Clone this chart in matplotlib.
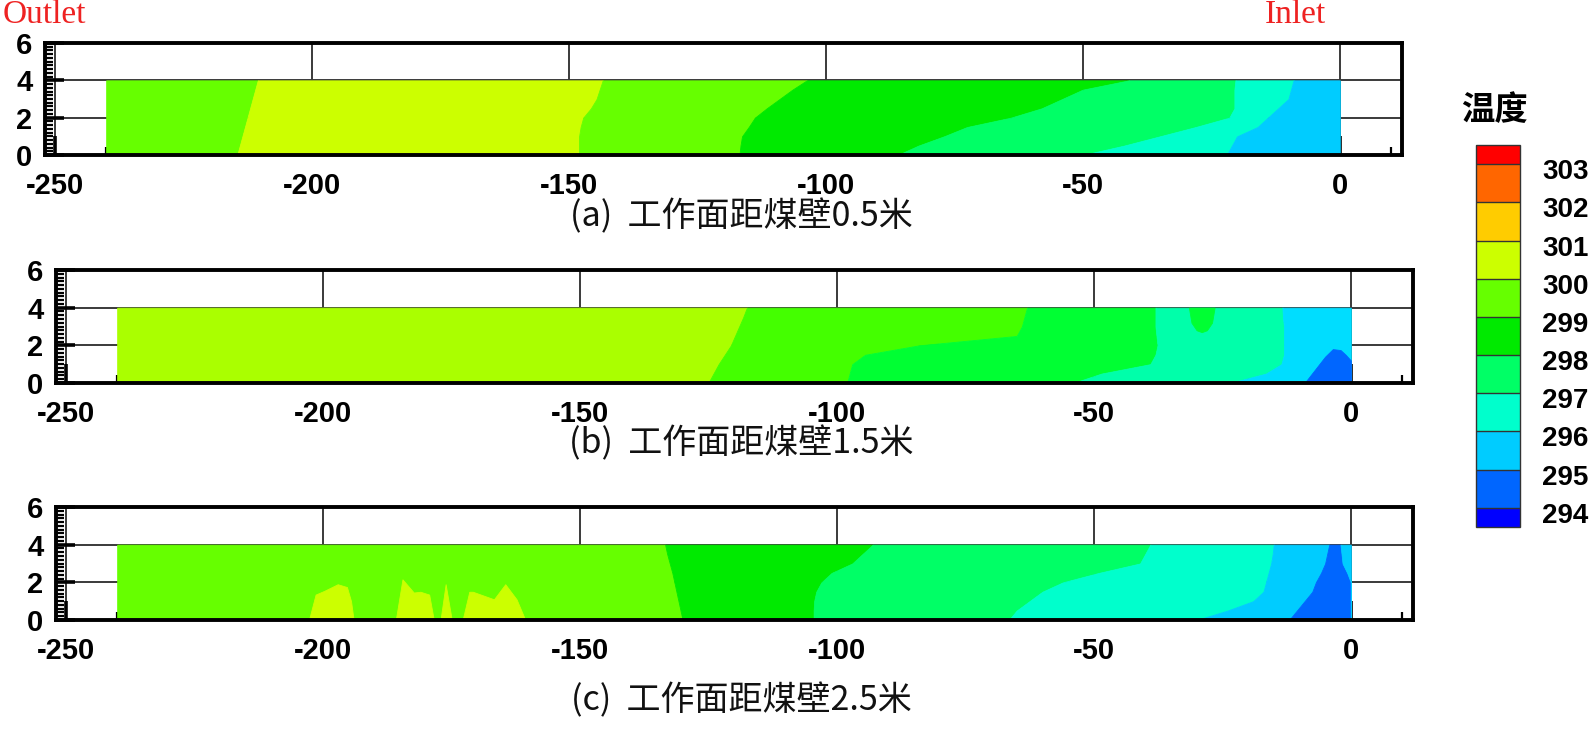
import numpy as np
import matplotlib
matplotlib.use("Agg")
import matplotlib.pyplot as plt
from matplotlib.colors import ListedColormap, BoundaryNorm
from matplotlib.cm import ScalarMappable
from matplotlib.ticker import MultipleLocator
from matplotlib.transforms import ScaledTranslation

plt.rcParams['axes.unicode_minus'] = False

# ---------------- data ----------------
levels = [294, 295, 296, 297, 298, 299, 300, 301, 302, 303]
x_ticks = [-250, -200, -150, -100, -50, 0]
y_ticks = [0, 2, 4, 6]
x_start, x_end = -240, 0          # extent of the computed zone
y_rows = [0, 0.5, 1, 1.5, 2, 2.5, 3, 3.5, 4]   # heights at which isotherm positions were read

# panel (a): isotherm positions (x at each y_rows)
a_iso_300w = [-214.5, -214, -213.5, -213, -212.5, -212, -211.5, -211, -210.5]
a_iso_300e = [-148, -148, -148, -147.7, -147.2, -145.7, -144.6, -144, -143.4]
a_iso_299 = [-116.8, -116.6, -116.3, -115, -113.8, -111.5, -109, -106.5, -103.7]
a_iso_298 = [-86, -82, -77, -72.5, -64, -58, -54, -50, -41]
a_iso_297 = [-50, -42, -35, -28, -21.5, -20.5, -20.5, -20.5, -20.3]
a_iso_296 = [-22, -21, -20, -16, -14, -12, -10, -9.5, -9]
a_band_temp = [299, 300, 299, 298, 297, 296, 295]

# panel (b)
b_iso_300 = [-125, -124, -123, -121.8, -120.6, -119.8, -119, -118.2, -117.5]
b_iso_299 = [-98, -97.5, -97, -94.5, -84, -65, -64, -63.5, -63]
b_iso_298 = [-54, -48.5, -39, -38, -37.6, -37.8, -38, -38, -38]
b_iso_297 = [-23.5, -16.5, -13.5, -13, -13, -13, -13, -13.2, -13.3]
b_band_temp = [300, 299, 298, 297, 296]
b_warm_x = [-31.5, -31, -30, -29, -28, -27, -26.5]
b_warm_ybot = [4, 3.2, 2.8, 2.7, 2.8, 3.2, 4]
b_warm_temp = 298
b_cold_x = [-9, -7, -5, -3.5, -2, -1, 0]
b_cold_h = [0, 0.7, 1.4, 1.8, 1.75, 1.5, 1.2]
b_cold_temp = 294

# panel (c)
c_iso_299 = [-130, -130.4, -130.8, -131.2, -131.6, -132, -132.5, -133, -133.4]
c_iso_298 = [-104.5, -104.5, -104.4, -104, -103, -101, -97, -95, -93]
c_iso_297 = [-66.5, -65, -62.5, -60, -56, -49, -41, -40, -39]
c_iso_296 = [-30, -24, -19, -17, -16.5, -16, -15.5, -15.2, -15]
c_iso_295w = [-12, -10.5, -9, -7.5, -6.8, -5.8, -5, -4.6, -4.2]
c_iso_295e = [0, 0, 0, 0, 0, -0.7, -1.6, -1.8, -2]
c_band_temp = [299, 298, 297, 296, 295, 294, 295]
c_blob1_x = [-202.7, -201.4, -199.7, -197.1, -195.3, -194.5, -194]
c_blob1_h = [0, 1.35, 1.55, 1.9, 1.75, 1.0, 0]
c_blob2_x = [-185.8, -184.5, -182.3, -181, -179.3, -178.4]
c_blob2_h = [0, 2.16, 1.46, 1.5, 1.35, 0]
c_blob3_x = [-177.1, -176.1, -174.9]
c_blob3_h = [0, 1.9, 0]
c_blob4_x = [-172.8, -171.5, -170.8, -166.7, -164.5, -162.3, -160.6]
c_blob4_h = [0, 1.5, 1.5, 1.1, 1.9, 1.1, 0]
c_blob_temp = 300

captions = ["(a)  工作面距煤壁0.5米", "(b)  工作面距煤壁1.5米", "(c)  工作面距煤壁2.5米"]

# ---------------- style ----------------
interior_colors = ['#0066FF', '#00CCFF', '#00FFCC', '#00FF66', '#00EA00',
                   '#66FF00', '#CCFF00', '#FFCC00', '#FF6600']
under_color, over_color = '#0000FF', '#FF0000'
cmap = ListedColormap(interior_colors)
cmap.set_under(under_color)
cmap.set_over(over_color)
norm = BoundaryNorm(levels, cmap.N)

# panel (b) image was exported with a slightly shifted palette
b_palette = {300: '#AAFF00', 299: '#44FF00', 298: '#00FF33', 297: '#00FFAA',
             296: '#00DDFF', 295: '#00DDFF', 294: '#0066FF'}


def temp_color(t, palette=None):
    if palette is not None:
        return palette[t]
    return cmap(norm(t + 0.5))


W, H = 1594, 729
fig = plt.figure(figsize=(W / 100, H / 100), dpi=100)

tick_family = ['Liberation Sans', 'DejaVu Sans']
cjk = ['Noto Sans CJK SC', 'DejaVu Sans']

# axes rectangles in pixels (left, top, right, bottom)
rects = [(45, 43, 1402, 155), (56, 270, 1413, 383), (56, 507, 1413, 620)]
caption_y = [217, 444, 701]


def make_ax(r):
    l, t, rr, b = r
    return fig.add_axes([l / W, 1 - b / H, (rr - l) / W, (b - t) / H])


def style_ax(ax):
    ax.set_xlim(-251.9, 12.1)
    ax.set_ylim(0, 6)
    ax.set_xticks(x_ticks)
    ax.set_yticks(y_ticks)
    ax.xaxis.set_minor_locator(MultipleLocator(10))
    ax.yaxis.set_minor_locator(MultipleLocator(0.2))
    ax.set_axisbelow(True)
    ax.grid(True, which='major', color='#3a3a3a', lw=1.4)
    ax.tick_params(axis='both', which='major', direction='in', length=14, width=2.6,
                   top=False, right=False)
    ax.tick_params(axis='x', which='major', pad=12)
    ax.tick_params(axis='y', which='major', pad=9)
    ax.tick_params(axis='both', which='minor', direction='in', length=6, width=1.6,
                   top=False, right=False)
    for lab in ax.get_xticklabels() + ax.get_yticklabels():
        lab.set_fontfamily(tick_family)
        lab.set_fontweight('bold')
        lab.set_fontsize(21)
    for sp in ax.spines.values():
        sp.set_linewidth(2.8)
        sp.set_color('black')
        sp.set_zorder(5)


def draw_bands(ax, isos, temps, palette=None):
    y = np.array(y_rows)
    edges = [[x_start] * len(y_rows)] + isos + [[x_end] * len(y_rows)]
    for i, t in enumerate(temps):
        c = temp_color(t, palette)
        ax.fill_betweenx(y, edges[i], edges[i + 1], facecolor=c, edgecolor=c,
                         lw=0.6, zorder=1)


# panel a
ax_a = make_ax(rects[0])
draw_bands(ax_a, [a_iso_300w, a_iso_300e, a_iso_299, a_iso_298, a_iso_297, a_iso_296],
           a_band_temp)
style_ax(ax_a)

# panel b
ax_b = make_ax(rects[1])
draw_bands(ax_b, [b_iso_300, b_iso_299, b_iso_298, b_iso_297], b_band_temp, b_palette)
c = b_palette[b_warm_temp]
ax_b.fill_between(b_warm_x, b_warm_ybot, 4, facecolor=c, edgecolor=c, lw=0.6, zorder=1.2)
c = b_palette[b_cold_temp]
ax_b.fill_between(b_cold_x, 0, b_cold_h, facecolor=c, edgecolor=c, lw=0.6, zorder=1.2)
style_ax(ax_b)

# panel c
ax_c = make_ax(rects[2])
draw_bands(ax_c, [c_iso_299, c_iso_298, c_iso_297, c_iso_296, c_iso_295w, c_iso_295e],
           c_band_temp)
c = temp_color(c_blob_temp)
for bx, bh in [(c_blob1_x, c_blob1_h), (c_blob2_x, c_blob2_h),
               (c_blob3_x, c_blob3_h), (c_blob4_x, c_blob4_h)]:
    ax_c.fill_between(bx, 0, bh, facecolor=c, edgecolor=c, lw=0.6, zorder=1.2)
style_ax(ax_c)

for cap, yy in zip(captions, caption_y):
    fig.text(741 / W, 1 - yy / H, cap, ha='center', va='center', fontsize=24.5,
             family=cjk, color='#111111')

# Outlet / Inlet labels
serif = ['Liberation Serif', 'DejaVu Serif']
fig.text(3 / W, 1 - 15 / H, 'Outlet', ha='left', va='center', fontsize=24,
         family=serif, color='#EE2222')
fig.text(1265 / W, 1 - 15 / H, 'Inlet', ha='left', va='center', fontsize=24,
         family=serif, color='#EE2222')

# colorbar
cax = fig.add_axes([1476 / W, 1 - 527 / H, 44 / W, 382 / H])
sm = ScalarMappable(norm=norm, cmap=cmap)
cb = fig.colorbar(sm, cax=cax, extend='both', extendrect=True, extendfrac=0.5 / 9,
                  drawedges=True, ticks=levels)
cb.outline.set_linewidth(1.0)
cb.outline.set_edgecolor('#333333')
cb.dividers.set_color('#333333')
cb.dividers.set_linewidth(1.0)
cax.tick_params(length=0, pad=16)
off = ScaledTranslation(0, -5 / 100, fig.dpi_scale_trans)
for lab in cax.get_yticklabels():
    lab.set_fontfamily(tick_family)
    lab.set_fontweight('bold')
    lab.set_fontsize(20)
    lab.set_transform(lab.get_transform() + off)
fig.text(1494 / W, 1 - 111 / H, '温度', ha='center', va='center', fontsize=24,
         family=cjk, weight='bold', color='black')

fig.savefig('out.png', dpi=100, facecolor='white')
